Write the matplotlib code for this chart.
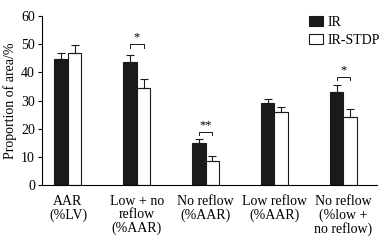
import numpy as np
import matplotlib
matplotlib.use('Agg')
import matplotlib.pyplot as plt

plt.rcParams['font.family'] = ['Liberation Serif', 'DejaVu Serif']
plt.rcParams['font.size'] = 10

categories = ['AAR\n(%LV)', 'Low + no\nreflow\n(%AAR)', 'No reflow\n(%AAR)',
              'Low reflow\n(%AAR)', 'No reflow\n(%low +\nno reflow)']
ir_mean = [44.6, 43.7, 14.8, 29.2, 32.9]
ir_err = [2.4, 2.5, 1.7, 1.2, 2.7]
stdp_mean = [46.7, 34.6, 8.6, 25.9, 24.2]
stdp_err = [3.0, 2.9, 1.7, 1.9, 2.8]
# significance brackets: (group index, bracket height, label)
sig = [(1, 50.0, '*'), (2, 18.9, '**'), (4, 38.4, '*')]

fig = plt.figure(figsize=(3.83, 2.42), dpi=100)
ax = fig.add_axes([42 / 383, 1 - 185 / 242, (377 - 42) / 383, (185 - 16) / 242])

x = np.arange(len(categories))
w = 0.196
ax.bar(x - w / 2, ir_mean, w, color='#1a1a1a', edgecolor='#1a1a1a', linewidth=0.8, label='IR')
ax.bar(x + w / 2, stdp_mean, w, color='white', edgecolor='#1a1a1a', linewidth=0.8, label='IR-STDP')
ax.errorbar(x - w / 2, ir_mean, yerr=[np.zeros(5), ir_err], fmt='none',
            ecolor='#1a1a1a', elinewidth=0.8, capsize=3, capthick=0.8)
ax.errorbar(x + w / 2, stdp_mean, yerr=[np.zeros(5), stdp_err], fmt='none',
            ecolor='#1a1a1a', elinewidth=0.8, capsize=3, capthick=0.8)

for i, h, lab in sig:
    ax.plot([i - w / 2, i - w / 2, i + w / 2, i + w / 2], [h - 1.2, h, h, h - 1.2],
            color='#1a1a1a', linewidth=0.7)
    ax.text(i, h + 0.2, lab, ha='center', va='bottom', fontsize=9)

ax.set_xlim(-0.377, 4.49)
ax.set_ylim(0, 60)
ax.set_yticks(range(0, 61, 10))
ax.set_xticks(x)
ax.set_xticklabels(categories, linespacing=1.05)
ax.tick_params(axis='x', length=0, pad=7)
ax.tick_params(axis='y', length=3, width=0.8, pad=2)
ax.spines['top'].set_visible(False)
ax.spines['right'].set_visible(False)
ax.spines['left'].set_linewidth(0.8)
ax.spines['bottom'].set_linewidth(0.8)
ax.set_ylabel('Proportion of area/%', labelpad=3)

ax.legend(loc='upper right', bbox_to_anchor=(1.045, 1.075), frameon=False,
          handlelength=1.0, handleheight=0.7, handletextpad=0.3, labelspacing=0.35)

fig.savefig('out.png', dpi=100)
